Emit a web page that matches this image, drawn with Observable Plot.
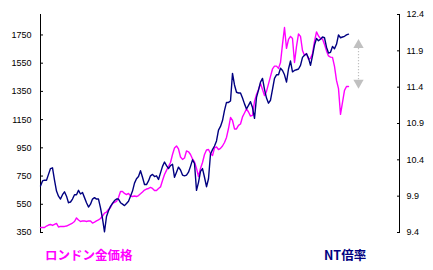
<!DOCTYPE html>
<html><head><meta charset="utf-8">
<script src="https://cdn.jsdelivr.net/npm/d3@7"></script>
<script src="https://cdn.jsdelivr.net/npm/@observablehq/plot@0.6"></script>
<style>
body{margin:0;background:#fff;}
#wrap{position:relative;width:433px;height:270px;overflow:hidden;background:#fff;}
#wrap svg{position:absolute;left:0;top:0;}
.lab{position:absolute;top:248px;font-family:"Noto Sans CJK JP";font-weight:bold;font-size:12.5px;line-height:14px;white-space:nowrap;}
</style></head><body>
<div id="wrap"></div>
<script>
const goldLabel = "ロンドン金価格";
const ntLabel = "NT倍率";
const goldColor = "#FF00FF";
const ntColor = "#000080";

// London gold price (left axis), sampled left to right
const gold = [
  385,385,385,396,403,407,400,407,414,389,
  393,393,393,396,403,410,417,428,453,439,
  428,432,432,428,432,432,417,424,432,439,
  449,467,488,495,513,527,556,563,570,598,
  641,641,627,619,627,609,605,609,605,612,
  624,637,651,658,662,669,662,648,648,662,
  673,719,761,790,818,846,903,949,963,942,
  885,868,878,928,922,903,871,850,804,747,
  804,846,903,935,938,910,896,949,956,938,
  946,963,988,1024,1087,1165,1144,1084,1084,1109,
  1119,1169,1197,1226,1204,1175,1180,1279,1328,1364,
  1406,1364,1321,1350,1403,1456,1509,1529,1529,1513,
  1555,1683,1803,1655,1718,1740,1725,1555,1669,1757,
  1740,1640,1605,1619,1577,1584,1619,1704,1772,1743,
  1725,1722,1683,1637,1601,1593,1591,1527,1428,1370,
  1187,1272,1357,1385,1385
];

// NT ratio (right axis)
const nt = [
  10.04,10.11,10.12,10.12,10.20,10.28,10.29,10.12,9.97,9.90,
  9.86,9.92,9.96,9.90,9.81,9.82,9.86,9.92,9.92,9.98,
  9.93,9.95,9.88,9.81,9.75,9.79,9.86,9.88,9.86,9.86,
  9.74,9.59,9.41,9.62,9.70,9.76,9.80,9.84,9.86,9.86,
  9.81,9.79,9.77,9.80,9.83,9.90,9.97,10.08,10.14,10.17,
  10.25,10.16,10.06,10.06,10.11,10.18,10.20,10.17,10.18,10.13,
  10.22,10.31,10.37,10.32,10.28,10.32,10.34,10.16,10.23,10.30,
  10.26,10.19,10.18,10.19,10.23,10.31,10.40,10.35,9.98,10.09,
  10.24,10.28,10.16,10.03,10.14,10.48,10.54,10.59,10.66,10.81,
  10.86,10.94,11.08,11.19,11.19,11.21,11.59,11.43,11.33,11.32,
  11.32,11.25,11.17,11.10,11.15,11.20,11.12,10.97,11.26,11.36,
  11.47,11.52,11.37,11.25,11.18,11.22,11.37,11.52,11.57,11.57,
  11.66,11.63,11.57,11.47,11.65,11.76,11.61,11.63,11.64,11.65,
  11.70,11.81,11.84,11.86,11.80,11.70,11.83,11.98,12.07,12.04,
  12.06,12.09,12.08,11.95,11.87,11.88,11.96,11.93,11.99,12.12,
  12.08,12.09,12.10,12.12,12.13
];

const leftTicks = [350,550,750,950,1150,1350,1550,1750];
const rightTicks = [9.4,9.9,10.4,10.9,11.4,11.9,12.4];
const leftDomain = [350, 1895];
const rightDomain = [9.4, 12.4];
const xDomain = [0, 179.5];

// gray double arrow (in right-axis units)
const arrowX = 159;
const arrowShaft = [11.94, 11.50];
const arrowHeads = [11.98, 11.46];
const arrowColor = "#C0C0C0";

const k = (leftDomain[1]-leftDomain[0])/(rightDomain[1]-rightDomain[0]);
const toLeft = v => leftDomain[0] + (v - rightDomain[0]) * k;
const fromLeft = v => rightDomain[0] + (v - leftDomain[0]) / k;

const goldData = gold.map((v,i)=>({i, v}));
const ntData = nt.map((v,i)=>({i, v: toLeft(v)}));

const chart = Plot.plot({
  width: 433, height: 240,
  marginLeft: 40, marginRight: 34, marginTop: 14, marginBottom: 8,
  style: {fontFamily: "'Liberation Sans', Arial, sans-serif", fontSize: "9px", background: "#fff", color: "#000"},
  x: {domain: xDomain, axis: null},
  y: {domain: leftDomain, axis: null},
  marks: [
    Plot.ruleX(xDomain, {stroke: "#000", strokeWidth: 1}),
    Plot.axisY({anchor: "left", label: null, ticks: leftTicks, tickFormat: d => String(d), tickSize: -3, tickPadding: 12, fontSize: 9}),
    Plot.axisY({anchor: "right", label: null, ticks: rightTicks.map(toLeft), tickFormat: d => fromLeft(d).toFixed(1), tickSize: -3, tickPadding: 10, fontSize: 9}),
    Plot.line(goldData, {x: "i", y: "v", stroke: goldColor, strokeWidth: 1.4}),
    Plot.line(ntData, {x: "i", y: "v", stroke: ntColor, strokeWidth: 1.4}),
    Plot.link([0], {x1: () => arrowX, x2: () => arrowX, y1: () => toLeft(arrowShaft[0]), y2: () => toLeft(arrowShaft[1]), stroke: arrowColor, strokeWidth: 1.2, strokeDasharray: "1.2,1.8"}),
    Plot.dot(arrowHeads.map((v,j)=>({v: toLeft(v), rot: j ? 180 : 0})), {x: () => arrowX, y: "v", rotate: "rot", symbol: "triangle", r: 3.8, fill: arrowColor, stroke: "none"})
  ]
});

const wrap = document.getElementById("wrap");
wrap.appendChild(chart);
const l1 = document.createElement("div");
l1.className = "lab"; l1.style.left = "45px"; l1.style.color = goldColor; l1.textContent = goldLabel;
const l2 = document.createElement("div");
l2.className = "lab"; l2.style.left = "324px"; l2.style.color = ntColor; l2.textContent = ntLabel;
wrap.appendChild(l1); wrap.appendChild(l2);
</script>
</body></html>
